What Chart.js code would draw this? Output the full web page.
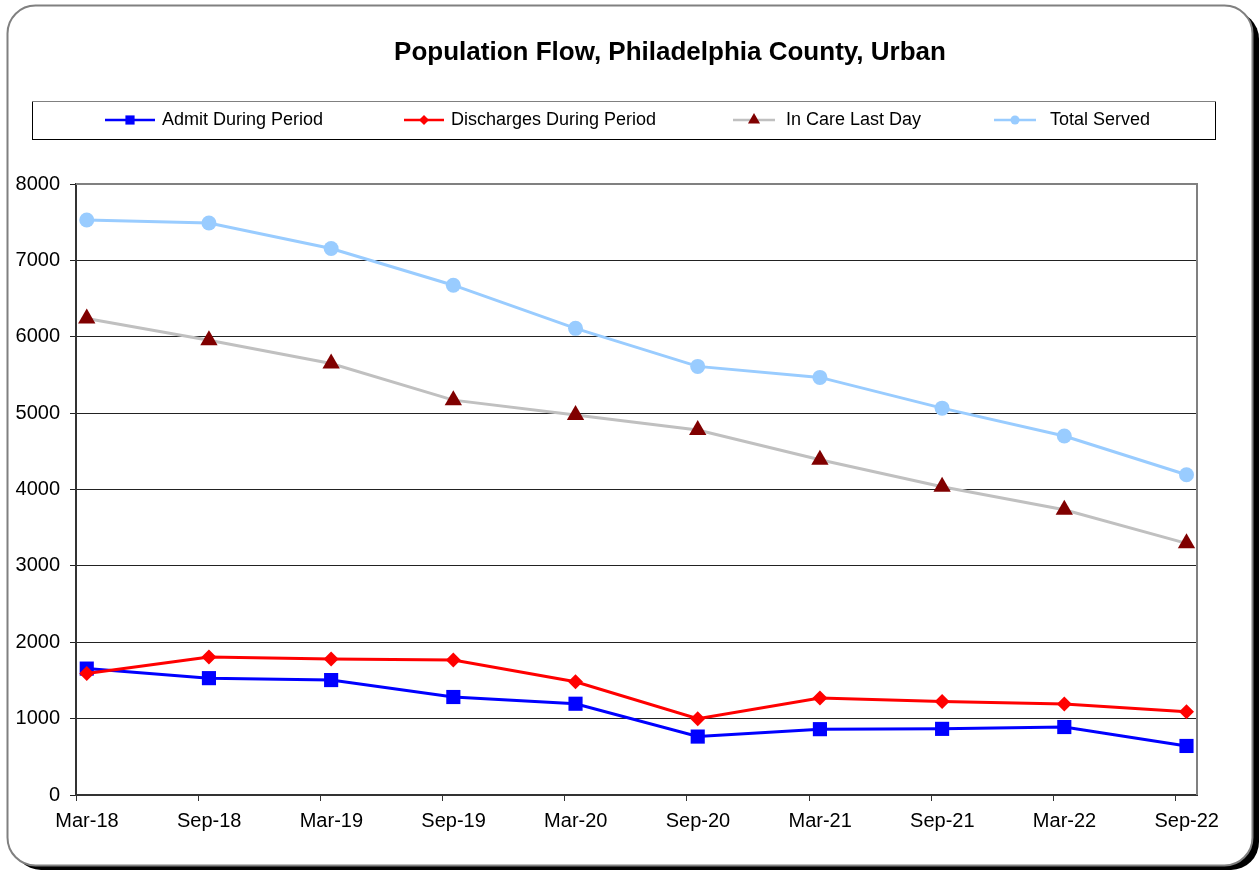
<!DOCTYPE html>
<html>
<head>
<meta charset="utf-8">
<script src="https://cdn.jsdelivr.net/npm/chart.js@4"></script>
<style>
  html, body { margin: 0; padding: 0; background: #fff; }
  #wrap { width: 1260px; height: 871px; position: relative; }
</style>
</head>
<body>
<div id="wrap"><canvas id="chart" width="1260" height="871"></canvas></div>
<script>
// data
const periods = ['Mar-18', 'Sep-18', 'Mar-19', 'Sep-19', 'Mar-20', 'Sep-20', 'Mar-21', 'Sep-21', 'Mar-22', 'Sep-22'];
const admitDuring = [1655, 1530, 1505, 1283, 1195, 765, 862, 866, 890, 642];
const dischargesDuring = [1590, 1807, 1781, 1766, 1482, 998, 1270, 1225, 1193, 1090];
const inCareLastDay = [6240, 5955, 5650, 5170, 4975, 4780, 4390, 4035, 3735, 3295];
const totalServed = [7529, 7490, 7155, 6675, 6110, 5612, 5468, 5065, 4700, 4193];
const yTicks = [0, 1000, 2000, 3000, 4000, 5000, 6000, 7000, 8000];

const FONT = '"Liberation Sans", Arial, sans-serif';
const X_MIN = -0.088;
const X_MAX = 9.086;

const toPoints = (vals) => vals.map((v, i) => ({ x: i, y: v }));

const series = [
  { label: 'Admit During Period', data: admitDuring, line: '#0000FF', marker: '#0000FF', style: 'rect', r: 10, lr: 6.5 },
  { label: 'Discharges During Period', data: dischargesDuring, line: '#FF0000', marker: '#FF0000', style: 'rectRot', r: 7.5, lr: 5 },
  { label: 'In Care Last Day', data: inCareLastDay, line: '#C0C0C0', marker: '#800000', style: 'triangle', r: 10, lr: 7 },
  { label: 'Total Served', data: totalServed, line: '#99CCFF', marker: '#99CCFF', style: 'circle', r: 7.5, lr: 4.5 },
];

// rounded outer frame + title
const framePlugin = {
  id: 'frame',
  beforeDraw(chart) {
    const { ctx } = chart;
    const rr = (x, y, w, h, r) => {
      ctx.beginPath();
      ctx.moveTo(x + r, y);
      ctx.arcTo(x + w, y, x + w, y + h, r);
      ctx.arcTo(x + w, y + h, x, y + h, r);
      ctx.arcTo(x, y + h, x, y, r);
      ctx.arcTo(x, y, x + w, y, r);
      ctx.closePath();
    };
    ctx.save();
    ctx.fillStyle = '#fff';
    ctx.fillRect(0, 0, chart.width, chart.height);
    ctx.fillStyle = '#000';
    rr(13, 11, 1246, 859, 28);
    ctx.fill();
    ctx.fillStyle = '#fff';
    rr(7.5, 5.5, 1245, 860, 28);
    ctx.fill();
    ctx.strokeStyle = '#808080';
    ctx.lineWidth = 2;
    ctx.stroke();

    ctx.fillStyle = '#000';
    ctx.font = 'bold 26px ' + FONT;
    ctx.textAlign = 'center';
    ctx.textBaseline = 'middle';
    ctx.fillText('Population Flow, Philadelphia County, Urban', 670, 53);
    ctx.restore();
  },
  afterDraw(chart) {
    const { ctx, chartArea: a } = chart;
    ctx.save();
    ctx.strokeStyle = '#808080';
    ctx.lineWidth = 2;
    ctx.beginPath();
    ctx.moveTo(a.left, a.top);
    ctx.lineTo(a.right, a.top);
    ctx.lineTo(a.right, a.bottom);
    ctx.stroke();
    ctx.restore();
  },
};

// boxed legend above the plot
const legendPlugin = {
  id: 'boxLegend',
  afterDraw(chart) {
    const { ctx } = chart;
    const slots = [[105, 155, 162], [404, 444, 451], [733, 775, 786], [994, 1036, 1050]];
    ctx.save();
    ctx.strokeStyle = '#000';
    ctx.lineWidth = 1;
    ctx.strokeRect(32.5, 101.5, 1183, 38);
    ctx.strokeStyle = '#808080';
    ctx.beginPath();
    ctx.moveTo(32, 101.5);
    ctx.lineTo(1216, 101.5);
    ctx.stroke();
    const y = 120;
    series.forEach((s, i) => {
      const [x0, x1, tx] = slots[i];
      ctx.strokeStyle = s.line;
      ctx.lineWidth = 2.5;
      ctx.beginPath();
      ctx.moveTo(x0, y);
      ctx.lineTo(x1, y);
      ctx.stroke();
      ctx.fillStyle = s.marker;
      ctx.strokeStyle = s.marker;
      Chart.helpers.drawPoint(ctx, { pointStyle: s.style, radius: s.lr, rotation: 0, borderWidth: 0 }, (x0 + x1) / 2, y);
      ctx.fillStyle = '#000';
      ctx.font = '18px ' + FONT;
      ctx.textAlign = 'left';
      ctx.textBaseline = 'middle';
      ctx.fillText(s.label, tx, y);
    });
    ctx.restore();
  },
};

new Chart(document.getElementById('chart'), {
  type: 'line',
  data: {
    datasets: series.map((s) => ({
      label: s.label,
      data: toPoints(s.data),
      borderColor: s.line,
      borderWidth: 3,
      backgroundColor: s.marker,
      pointStyle: s.style,
      pointRadius: s.r,
      pointHoverRadius: s.r,
      pointBackgroundColor: s.marker,
      pointBorderColor: s.marker,
      pointBorderWidth: 0,
      tension: 0,
      fill: false,
    })).reverse(),
  },
  plugins: [framePlugin, legendPlugin],
  options: {
    responsive: false,
    devicePixelRatio: 1,
    animation: false,
    layout: { padding: { left: 0, top: 184, right: 63, bottom: 0 } },
    plugins: {
      legend: { display: false },
      title: { display: false },
      tooltip: { enabled: false },
    },
    scales: {
      x: {
        type: 'linear',
        min: X_MIN,
        max: X_MAX,
        afterBuildTicks: (scale) => {
          scale.ticks = periods.map((_, i) => ({ value: i + X_MIN }));
        },
        afterFit: (scale) => { scale.height = 76; },
        ticks: {
          autoSkip: false,
          maxRotation: 0,
          labelOffset: 11,
          padding: 8,
          color: '#000',
          font: { family: FONT, size: 20 },
          callback: (value, index) => periods[index],
        },
        grid: { display: true, drawOnChartArea: false, drawTicks: true, tickLength: 6, color: '#333' },
        border: { display: true, color: '#333', width: 2 },
      },
      y: {
        min: 0,
        max: 8000,
        afterBuildTicks: (scale) => {
          scale.ticks = yTicks.map((v) => ({ value: v }));
        },
        afterFit: (scale) => { scale.width = 76; },
        ticks: {
          padding: 10,
          color: '#000',
          font: { family: FONT, size: 20 },
          callback: (value) => String(value),
        },
        grid: { color: '#222', lineWidth: 1, tickLength: 6 },
        border: { display: true, color: '#333', width: 2 },
      },
    },
  },
});
</script>
</body>
</html>
